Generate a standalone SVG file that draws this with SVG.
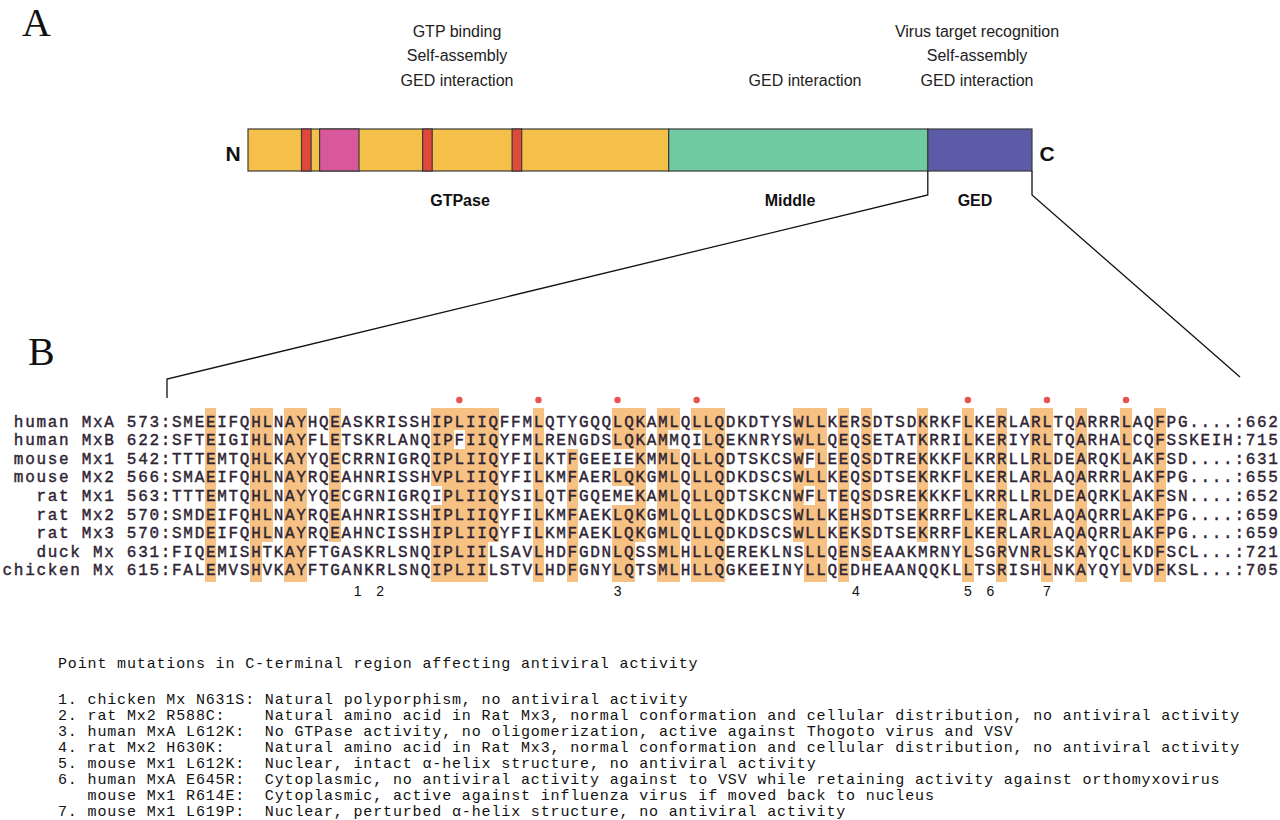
<svg xmlns="http://www.w3.org/2000/svg" width="1280" height="820" viewBox="0 0 1280 820">
<style>
 .panel{font-family:"Liberation Serif","Times New Roman",serif;font-size:40px;fill:#111}
 .func{font-family:"Liberation Sans",Arial,sans-serif;font-size:16px;fill:#222;text-anchor:middle}
 .dom{font-family:"Liberation Sans",Arial,sans-serif;font-size:16px;font-weight:bold;fill:#111;text-anchor:middle}
 .term{font-family:"Liberation Sans",Arial,sans-serif;font-size:21px;font-weight:bold;fill:#111;text-anchor:middle}
 .seg{stroke:#3a3a3a;stroke-width:1.2}
 .conn{fill:none;stroke:#111;stroke-width:1.3}
 .seq{font-family:"Liberation Mono","Courier New",monospace;font-size:16px;letter-spacing:1.7px;fill:#2e2434;stroke:#2e2434;stroke-width:0.4}
 .band{fill:#f6c183}
 .dot{fill:#e8524f}
 .num{font-family:"Liberation Sans",Arial,sans-serif;font-size:14px;fill:#111;text-anchor:middle}
 .note{font-family:"Liberation Mono","Courier New",monospace;font-size:15px;letter-spacing:0.85px;fill:#111}
</style>
<g id="panel-a">
 <text class="panel" x="22" y="36">A</text>
</g>
<g id="func-gtpase">
 <text class="func" x="457" y="37">GTP binding</text>
 <text class="func" x="457" y="61">Self-assembly</text>
 <text class="func" x="457" y="86">GED interaction</text>
</g>
<g id="func-middle">
 <text class="func" x="805" y="86">GED interaction</text>
</g>
<g id="func-ged">
 <text class="func" x="977" y="37">Virus target recognition</text>
 <text class="func" x="977" y="61">Self-assembly</text>
 <text class="func" x="977" y="86">GED interaction</text>
</g>
<g id="domain-bar">
 <text class="term" x="233" y="161">N</text>
 <rect class="seg" x="248" y="129" width="420.7" height="42" fill="#f5c04a"/>
 <rect class="seg" x="301.5" y="129" width="9.6" height="42" fill="#e0483a"/>
 <rect class="seg" x="319.6" y="129" width="39.4" height="42" fill="#d9589c"/>
 <rect class="seg" x="422.6" y="129" width="9.6" height="42" fill="#e0483a"/>
 <rect class="seg" x="512.1" y="129" width="9.6" height="42" fill="#e0483a"/>
 <rect class="seg" x="668.7" y="129" width="259.1" height="42" fill="#6fc9a1"/>
 <rect class="seg" x="927.8" y="129" width="104.2" height="42" fill="#5b5ba8"/>
 <text class="term" x="1047" y="161">C</text>
</g>
<g id="domain-labels">
 <text class="dom" x="460" y="206">GTPase</text>
 <text class="dom" x="790" y="206">Middle</text>
 <text class="dom" x="975" y="206">GED</text>
</g>
<g id="connectors">
 <polyline class="conn" points="927.8,171 927.8,195 167,379 167,398"/>
 <polyline class="conn" points="1032,171 1032,195 1240,377"/>
</g>
<g id="panel-b">
 <text class="panel" x="28" y="365">B</text>
</g>
<g id="alignment-shading" shape-rendering="crispEdges">
 <rect class="band" x="205.1" y="408" width="11.3" height="174"/>
 <rect class="band" x="250.3" y="408" width="11.3" height="174"/>
 <rect class="band" x="261.6" y="408" width="11.3" height="133.9"/>
 <rect class="band" x="284.2" y="408" width="22.6" height="174"/>
 <rect class="band" x="329.4" y="408" width="11.3" height="133.9"/>
 <rect class="band" x="431.1" y="408" width="11.3" height="78.1"/>
 <rect class="band" x="431.1" y="504.7" width="11.3" height="77.3"/>
 <rect class="band" x="442.4" y="408" width="11.3" height="174"/>
 <rect class="band" x="453.7" y="408" width="11.3" height="22.3"/>
 <rect class="band" x="453.7" y="448.9" width="11.3" height="133.1"/>
 <rect class="band" x="465" y="408" width="22.6" height="174"/>
 <rect class="band" x="487.6" y="408" width="11.3" height="133.9"/>
 <rect class="band" x="532.8" y="408" width="11.3" height="174"/>
 <rect class="band" x="566.7" y="448.9" width="11.3" height="133.1"/>
 <rect class="band" x="611.9" y="408" width="22.6" height="40.9"/>
 <rect class="band" x="611.9" y="467.5" width="22.6" height="18.6"/>
 <rect class="band" x="611.9" y="504.7" width="22.6" height="77.3"/>
 <rect class="band" x="634.5" y="408" width="11.3" height="133.9"/>
 <rect class="band" x="657.1" y="408" width="11.3" height="174"/>
 <rect class="band" x="668.4" y="408" width="11.3" height="22.3"/>
 <rect class="band" x="668.4" y="448.9" width="11.3" height="133.1"/>
 <rect class="band" x="691" y="408" width="11.3" height="22.3"/>
 <rect class="band" x="691" y="448.9" width="11.3" height="133.1"/>
 <rect class="band" x="702.3" y="408" width="22.6" height="174"/>
 <rect class="band" x="792.7" y="408" width="11.3" height="133.9"/>
 <rect class="band" x="804" y="408" width="11.3" height="40.9"/>
 <rect class="band" x="804" y="467.5" width="11.3" height="18.6"/>
 <rect class="band" x="804" y="504.7" width="11.3" height="77.3"/>
 <rect class="band" x="815.3" y="408" width="11.3" height="174"/>
 <rect class="band" x="837.9" y="408" width="11.3" height="174"/>
 <rect class="band" x="860.5" y="408" width="11.3" height="152.5"/>
 <rect class="band" x="917" y="408" width="11.3" height="133.9"/>
 <rect class="band" x="962.2" y="408" width="11.3" height="174"/>
 <rect class="band" x="996.1" y="408" width="11.3" height="174"/>
 <rect class="band" x="1030" y="408" width="11.3" height="152.5"/>
 <rect class="band" x="1041.3" y="408" width="11.3" height="174"/>
 <rect class="band" x="1075.2" y="408" width="11.3" height="174"/>
 <rect class="band" x="1120.4" y="408" width="11.3" height="174"/>
 <rect class="band" x="1154.3" y="408" width="11.3" height="174"/>
</g>
<g id="heptad-dots">
 <circle class="dot" cx="459.35" cy="400" r="3.2"/>
 <circle class="dot" cx="538.45" cy="400" r="3.2"/>
 <circle class="dot" cx="617.55" cy="400" r="3.2"/>
 <circle class="dot" cx="696.65" cy="400" r="3.2"/>
 <circle class="dot" cx="967.85" cy="400" r="3.2"/>
 <circle class="dot" cx="1046.95" cy="400" r="3.2"/>
 <circle class="dot" cx="1126.05" cy="400" r="3.2"/>
</g>
<g id="alignment-rows">
 <text class="seq" x="13.85" y="426.5">human MxA 573:SMEEIFQHLNAYHQEASKRISSHIPLIIQFFMLQTYGQQLQKAMLQLLQDKDTYSWLLKERSDTSDKRKFLKERLARLTQARRRLAQFPG....:662</text>
 <text class="seq" x="13.85" y="445.1">human MxB 622:SFTEIGIHLNAYFLETSKRLANQIPFIIQYFMLRENGDSLQKAMMQILQEKNRYSWLLQEQSETATKRRILKERIYRLTQARHALCQFSSKEIH:715</text>
 <text class="seq" x="13.85" y="463.7">mouse Mx1 542:TTTEMTQHLKAYYQECRRNIGRQIPLIIQYFILKTFGEEIEKMMLQLLQDTSKCSWFLEEQSDTREKKKFLKRRLLRLDEARQKLAKFSD....:631</text>
 <text class="seq" x="13.85" y="482.3">mouse Mx2 566:SMAEIFQHLNAYRQEAHNRISSHVPLIIQYFILKMFAERLQKGMLQLLQDKDSCSWLLKEQSDTSEKRKFLKERLARLAQARRRLAKFPG....:655</text>
 <text class="seq" x="36.45" y="500.9">rat Mx1 563:TTTEMTQHLNAYYQECGRNIGRQIPLIIQYSILQTFGQEMEKAMLQLLQDTSKCNWFLTEQSDSREKKKFLKRRLLRLDEAQRKLAKFSN....:652</text>
 <text class="seq" x="36.45" y="519.5">rat Mx2 570:SMDEIFQHLNAYRQEAHNRISSHIPLIIQYFILKMFAEKLQKGMLQLLQDKDSCSWLLKEHSDTSEKRRFLKERLARLAQAQRRLAKFPG....:659</text>
 <text class="seq" x="36.45" y="538.1">rat Mx3 570:SMDEIFQHLNAYRQEAHNCISSHIPLIIQYFILKMFAEKLQKGMLQLLQDKDSCSWLLKEKSDTSEKRRFLKERLARLAQAQRRLAKFPG....:659</text>
 <text class="seq" x="36.45" y="556.7">duck Mx 631:FIQEMISHTKAYFTGASKRLSNQIPLIILSAVLHDFGDNLQSSMLHLLQEREKLNSLLQENSEAAKMRNYLSGRVNRLSKAYQCLKDFSCL...:721</text>
 <text class="seq" x="2.55" y="575.3">chicken Mx 615:FALEMVSHVKAYFTGANKRLSNQIPLIILSTVLHDFGNYLQTSMLHLLQGKEEINYLLQEDHEAANQQKLLTSRISHLNKAYQYLVDFKSL...:705</text>
</g>
<g id="mutation-positions">
 <text class="num" x="357.6" y="596">1</text>
 <text class="num" x="380.2" y="596">2</text>
 <text class="num" x="617.55" y="596">3</text>
 <text class="num" x="855.95" y="596">4</text>
 <text class="num" x="967.85" y="596">5</text>
 <text class="num" x="990.45" y="596">6</text>
 <text class="num" x="1046.95" y="596">7</text>
</g>
<g id="mutation-notes">
 <text class="note" x="58" y="668">Point mutations in C-terminal region affecting antiviral activity</text>
 <text class="note" x="58" y="704">1. chicken Mx N631S:</text>
 <text class="note" x="264.85" y="704">Natural polyporphism, no antiviral activity</text>
 <text class="note" x="58" y="720">2. rat Mx2 R588C:</text>
 <text class="note" x="264.85" y="720">Natural amino acid in Rat Mx3, normal conformation and cellular distribution, no antiviral activity</text>
 <text class="note" x="58" y="736">3. human MxA L612K:</text>
 <text class="note" x="264.85" y="736">No GTPase activity, no oligomerization, active against Thogoto virus and VSV</text>
 <text class="note" x="58" y="752">4. rat Mx2 H630K:</text>
 <text class="note" x="264.85" y="752">Natural amino acid in Rat Mx3, normal conformation and cellular distribution, no antiviral activity</text>
 <text class="note" x="58" y="768">5. mouse Mx1 L612K:</text>
 <text class="note" x="264.85" y="768">Nuclear, intact α-helix structure, no antiviral activity</text>
 <text class="note" x="58" y="784">6. human MxA E645R:</text>
 <text class="note" x="264.85" y="784">Cytoplasmic, no antiviral activity against to VSV while retaining activity against orthomyxovirus</text>
 <text class="note" x="87.55" y="800">mouse Mx1 R614E:</text>
 <text class="note" x="264.85" y="800">Cytoplasmic, active against influenza virus if moved back to nucleus</text>
 <text class="note" x="58" y="816">7. mouse Mx1 L619P:</text>
 <text class="note" x="264.85" y="816">Nuclear, perturbed α-helix structure, no antiviral activity</text>
</g>
</svg>
